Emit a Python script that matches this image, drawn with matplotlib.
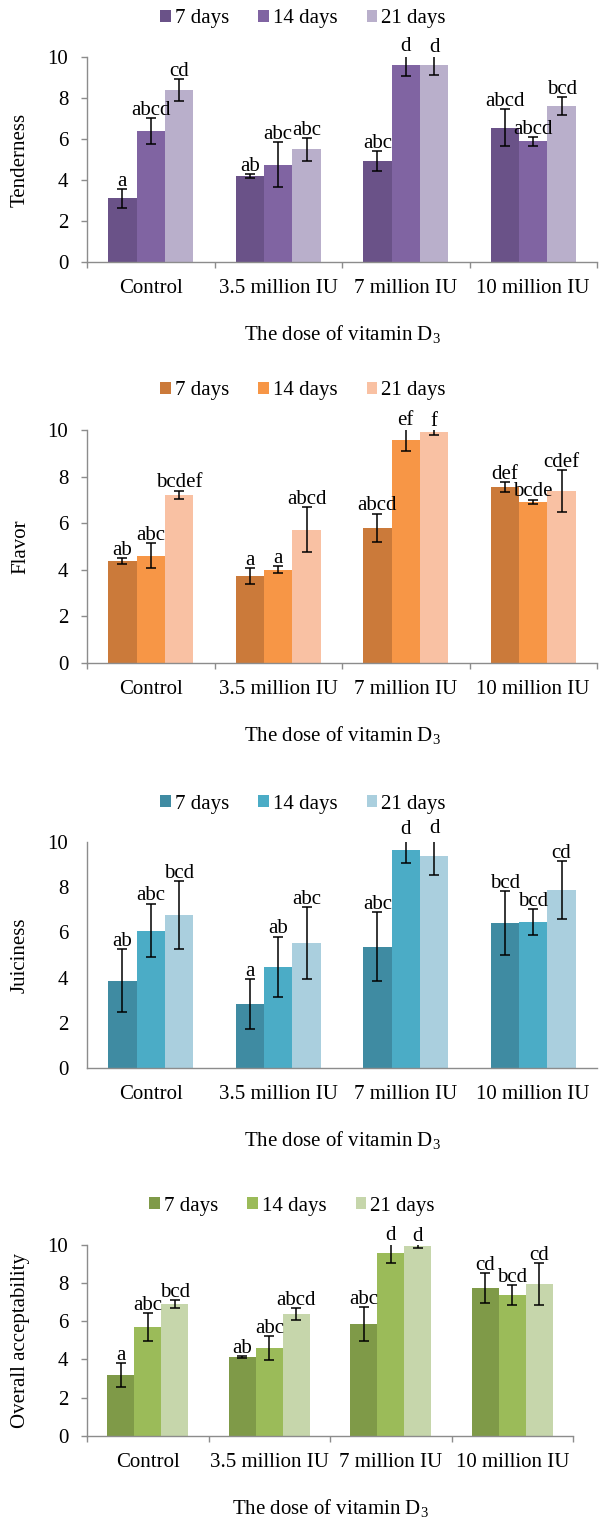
import numpy as np
import matplotlib.pyplot as plt
from matplotlib.patches import Patch

plt.rcParams['font.family'] = ['Liberation Serif', 'DejaVu Serif']
plt.rcParams['mathtext.fontset'] = 'custom'
plt.rcParams['mathtext.rm'] = 'Liberation Serif'
plt.rcParams['mathtext.it'] = 'Liberation Serif:italic'
plt.rcParams['font.size'] = 15

doses = ['Control', '3.5 million IU', '7 million IU', '10 million IU']
days = ['7 days', '14 days', '21 days']

# rows: dose, columns: 7 / 14 / 21 days
tenderness = [[3.1, 6.4, 8.4], [4.2, 4.75, 5.5], [4.93, 9.62, 9.62], [6.55, 5.9, 7.62]]
tenderness_err = [[0.45, 0.65, 0.55], [0.1, 1.1, 0.57], [0.48, 0.55, 0.5], [0.9, 0.22, 0.42]]
tenderness_sig = [['a', 'abcd', 'cd'], ['ab', 'abc', 'abc'], ['abc', 'd', 'd'], ['abcd', 'abcd', 'bcd']]

flavor = [[4.38, 4.6, 7.22], [3.73, 4.0, 5.72], [5.8, 9.58, 9.93], [7.56, 6.92, 7.38]]
flavor_err = [[0.12, 0.54, 0.17], [0.33, 0.15, 0.97], [0.61, 0.48, 0.12], [0.21, 0.1, 0.9]]
flavor_sig = [['ab', 'abc', 'bcdef'], ['a', 'a', 'abcd'], ['abcd', 'ef', 'f'], ['def', 'bcde', 'cdef']]

juiciness = [[3.85, 6.08, 6.78], [2.83, 4.47, 5.53], [5.37, 9.66, 9.4], [6.42, 6.46, 7.88]]
juiciness_err = [[1.4, 1.19, 1.5], [1.11, 1.35, 1.6], [1.53, 0.56, 0.87], [1.4, 0.57, 1.27]]
juiciness_sig = [['ab', 'abc', 'bcd'], ['a', 'ab', 'abc'], ['abc', 'd', 'd'], ['bcd', 'bcd', 'cd']]

overall = [[3.18, 5.7, 6.92], [4.13, 4.6, 6.38], [5.86, 9.58, 9.95], [7.74, 7.38, 7.96]]
overall_err = [[0.65, 0.76, 0.2], [0.07, 0.61, 0.3], [0.9, 0.54, 0.12], [0.8, 0.51, 1.1]]
overall_sig = [['a', 'abc', 'bcd'], ['ab', 'abc', 'abcd'], ['abc', 'd', 'd'], ['cd', 'bcd', 'cd']]

purples = ['#6a5288', '#8064a2', '#b9afcb']
oranges = ['#cb7a3a', '#f79646', '#f9c1a3']
teals = ['#3f8ba2', '#4bacc6', '#aacfde']
greens = ['#7f9a48', '#9bbb59', '#c6d6ab']

W, H = 608, 1518
fig = plt.figure(figsize=(W / 100, H / 100), dpi=100)
axis_grey = '#8c8c8c'


def draw_panel(means, errs, sig, colors, ylabel, box, legend_xy, ticks=True):
    left, top, right, bottom = box
    ax = fig.add_axes([left / W, 1 - bottom / H, (right - left) / W, (bottom - top) / H])
    means = np.array(means)
    errs = np.array(errs)
    width = 1 / 4.5
    centers = np.arange(len(doses)) + 0.5
    for j in range(len(days)):
        x = centers + (j - 1) * width
        ax.bar(x, means[:, j], width=width, color=colors[j], label=days[j])
        ax.errorbar(x, means[:, j], yerr=errs[:, j], fmt='none', ecolor='black',
                    elinewidth=1.1, capsize=3.3, capthick=1.1)
        for xi, m, e, s in zip(x, means[:, j], errs[:, j], [r[j] for r in sig]):
            ax.text(xi, m + e + 0.15, s, ha='center', va='baseline', clip_on=False)

    ax.set_xlim(0, 4)
    ax.set_ylim(0, 10)
    ax.set_yticks(range(0, 11, 2))
    ax.set_xticks(range(5))
    ax.set_xticklabels([])
    ax.set_xticks(centers, minor=True)
    ax.set_xticklabels(doses, minor=True)
    for s in ('top', 'right'):
        ax.spines[s].set_visible(False)
    for s in ('left', 'bottom'):
        ax.spines[s].set_color(axis_grey)
        ax.spines[s].set_linewidth(1.0)
    tl = 4 if ticks else 0
    ax.tick_params(axis='y', length=tl, width=1, color=axis_grey, pad=13.5 - tl)
    ax.tick_params(axis='x', which='major', length=tl, width=1, color=axis_grey)
    ax.tick_params(axis='x', which='minor', length=0, pad=12.5)

    ax.set_ylabel(ylabel)
    ax.yaxis.set_label_coords((30 - left) / (right - left), 0.5)
    fig.text((left + right) / 2 / W, 1 - (bottom + 72) / H,
             r'The dose of vitamin D$_3$', ha='center', va='center')

    handles = [Patch(facecolor=c, edgecolor='none') for c in colors]
    fig.legend(handles, days, loc='center', ncol=3, frameon=False,
               bbox_to_anchor=(legend_xy[0] / W, 1 - legend_xy[1] / H),
               handlelength=0.5, handleheight=0.5, handletextpad=0.2,
               columnspacing=1.4, borderpad=0)
    return ax


draw_panel(tenderness, tenderness_err, tenderness_sig, purples, 'Tenderness',
           (87, 57.3, 597, 261.7), (303, 19))
draw_panel(flavor, flavor_err, flavor_sig, oranges, 'Flavor',
           (87, 430.3, 597, 662.7), (303, 391))
draw_panel(juiciness, juiciness_err, juiciness_sig, teals, 'Juiciness',
           (87, 842.3, 597, 1067.7), (303, 804), ticks=False)
draw_panel(overall, overall_err, overall_sig, greens, 'Overall acceptability',
           (87, 1245, 573, 1435.7), (292, 1206))

fig.savefig('out.png', dpi=100)
